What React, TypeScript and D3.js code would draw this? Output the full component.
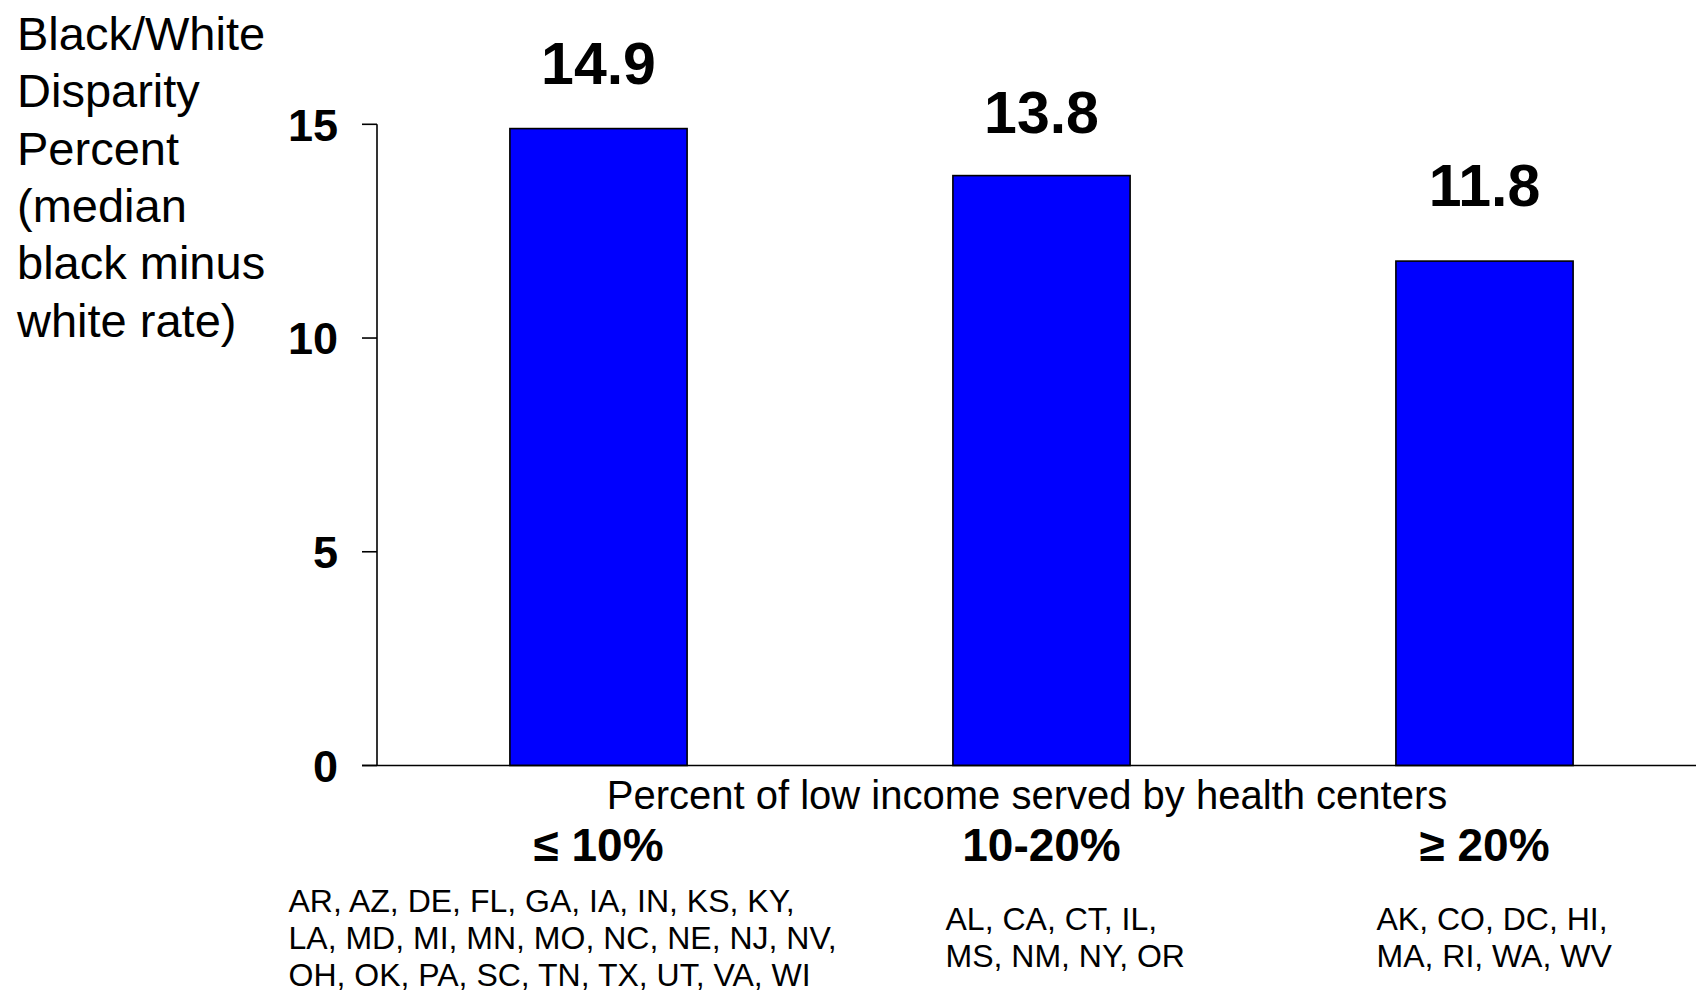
import React from "react";
import * as d3 from "d3";

const categories = ["≤ 10%", "10-20%", "≥ 20%"];
const values = [14.9, 13.8, 11.8];
const valueLabels = ["14.9", "13.8", "11.8"];
const yTicks = [0, 5, 10, 15];
const stateLists = [
  ["AR, AZ, DE, FL, GA, IA, IN, KS, KY,", "LA, MD, MI, MN, MO, NC, NE, NJ, NV,", "OH, OK, PA, SC, TN, TX, UT, VA, WI"],
  ["AL, CA, CT, IL,", "MS, NM, NY, OR"],
  ["AK, CO, DC, HI,", "MA, RI, WA, WV"],
];
const yTitleLines = ["Black/White", "Disparity", "Percent", "(median", "black minus", "white rate)"];
const xTitle = "Percent of low income served by health centers";

// layout (not data)
const W = 1696;
const H = 992;
const labelGap = [45, 43, 55];
const stateDx = [-310, -96, -108];
const stateBaseline = [912, 930, 930];
const FONT = "'Liberation Sans', Arial, Helvetica, sans-serif";

export default function App() {
  const x = d3
    .scaleBand<string>()
    .domain(categories)
    .range([377, 1706])
    .paddingInner(0.6)
    .paddingOuter(0.3);
  const y = d3.scaleLinear().domain([0, 15]).range([765.5, 124.3]);
  const axisX = 377;

  return (
    <svg
      width={W}
      height={H}
      style={{ position: "absolute", left: 0, top: 0, background: "#fff" }}
      fontFamily={FONT}
    >
      <rect x={0} y={0} width={W} height={H} fill="#fff" />
      {/* Y title */}
      <text x={17} fontSize={47} fill="#000">
        {yTitleLines.map((l, i) => (
          <tspan key={i} x={17} y={50 + i * 57.3}>
            {l}
          </tspan>
        ))}
      </text>

      {/* Bars */}
      {values.map((v, i) => (
        <rect
          key={i}
          x={x(categories[i])}
          y={y(v)}
          width={x.bandwidth()}
          height={y(0) - y(v)}
          fill="#0000FF"
          stroke="#000"
          strokeWidth={1.6}
        />
      ))}

      {/* Value labels */}
      {values.map((v, i) => (
        <text
          key={i}
          x={(x(categories[i]) as number) + x.bandwidth() / 2}
          y={y(v) - labelGap[i]}
          textAnchor="middle"
          fontSize={59}
          fontWeight="bold"
          fill="#000"
        >
          {valueLabels[i]}
        </text>
      ))}

      {/* Y axis */}
      <line x1={axisX} x2={axisX} y1={y(15)} y2={y(0)} stroke="#000" strokeWidth={1.6} />
      {yTicks.map((t) => (
        <g key={t}>
          <line x1={axisX - 15} x2={axisX} y1={y(t)} y2={y(t)} stroke="#000" strokeWidth={1.6} />
          <text
            x={338}
            y={y(t)}
            dy="0.36em"
            textAnchor="end"
            fontSize={45}
            fontWeight="bold"
            fill="#000"
          >
            {t}
          </text>
        </g>
      ))}

      {/* X axis line */}
      <line x1={axisX - 15} x2={W} y1={y(0)} y2={y(0)} stroke="#000" strokeWidth={1.6} />

      {/* X title */}
      <text x={1027} y={809} textAnchor="middle" fontSize={40} fill="#000">
        {xTitle}
      </text>

      {/* Category labels */}
      {categories.map((c) => (
        <text
          key={c}
          x={(x(c) as number) + x.bandwidth() / 2}
          y={861}
          textAnchor="middle"
          fontSize={46}
          fontWeight="bold"
          fill="#000"
        >
          {c}
        </text>
      ))}

      {/* State lists */}
      {categories.map((c, i) => (
        <text key={c} fontSize={32} fill="#000">
          {stateLists[i].map((l, j) => (
            <tspan
              key={j}
              x={(x(c) as number) + x.bandwidth() / 2 + stateDx[i]}
              y={stateBaseline[i] + j * 36.8}
            >
              {l}
            </tspan>
          ))}
        </text>
      ))}
    </svg>
  );
}
